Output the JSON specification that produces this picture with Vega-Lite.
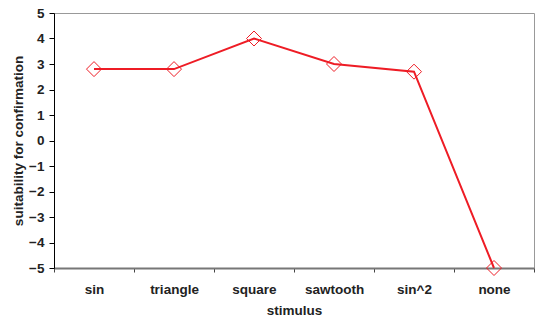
{
  "$schema": "https://vega.github.io/schema/vega-lite/v6.json",
  "width": 480,
  "height": 255,
  "autosize": {"type": "none"},
  "padding": {"left": 54, "top": 13, "right": 1, "bottom": 55},
  "background": "white",
  "config": {
    "view": {"stroke": "#999999", "strokeWidth": 1},
    "font": "Liberation Sans"
  },
  "data": {
    "values": [
      {"stimulus": "sin", "suitability": 2.8},
      {"stimulus": "triangle", "suitability": 2.8},
      {"stimulus": "square", "suitability": 4.0},
      {"stimulus": "sawtooth", "suitability": 3.0},
      {"stimulus": "sin^2", "suitability": 2.7},
      {"stimulus": "none", "suitability": -5.0}
    ]
  },
  "encoding": {
    "x": {
      "field": "stimulus",
      "type": "nominal",
      "sort": null,
      "scale": {"paddingInner": 0, "paddingOuter": 0},
      "axis": {
        "title": "stimulus",
        "labelAngle": 0,
        "tickBand": "extent",
        "tickSize": 4,
        "tickColor": "#444444",
        "domainColor": "#777777",
        "domainWidth": 2,
        "labelPadding": 10,
        "labelFont": "Liberation Sans",
        "labelFontSize": 13.5,
        "labelFontWeight": "bold",
        "labelColor": "#222222",
        "titleFont": "Liberation Sans",
        "titleFontSize": 13.5,
        "titleFontWeight": "bold",
        "titleColor": "#222222",
        "titlePadding": 8,
        "grid": false
      }
    },
    "y": {
      "field": "suitability",
      "type": "quantitative",
      "scale": {"domain": [-5, 5], "nice": false, "zero": false},
      "axis": {
        "title": "suitability for confirmation",
        "values": [-5, -4, -3, -2, -1, 0, 1, 2, 3, 4, 5],
        "tickSize": 5,
        "tickColor": "#000000",
        "domainColor": "#000000",
        "domainWidth": 1,
        "labelPadding": 5,
        "labelFont": "Liberation Sans",
        "labelFontSize": 13.5,
        "labelFontWeight": "bold",
        "labelColor": "#222222",
        "titleFont": "Liberation Sans",
        "titleFontSize": 13.5,
        "titleFontWeight": "bold",
        "titleColor": "#222222",
        "titlePadding": 3,
        "grid": false
      }
    }
  },
  "layer": [
    {
      "mark": {"type": "line", "color": "#ee1c25", "strokeWidth": 2}
    },
    {
      "mark": {"type": "point", "shape": "diamond", "size": 225, "filled": false, "color": "#ee1c25", "strokeWidth": 1, "opacity": 1}
    }
  ]
}
